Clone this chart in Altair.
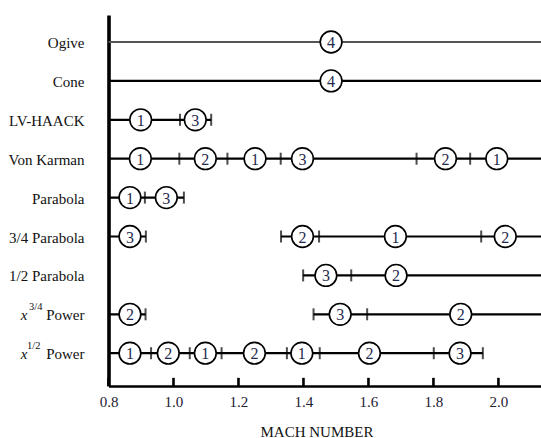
import altair as alt
import pandas as pd

# Nose-cone shapes, top to bottom (row index = position in this list)
rows = ["Ogive", "Cone", "LV-HAACK", "Von Karman", "Parabola",
        "3/4 Parabola", "1/2 Parabola", "x3/4 Power", "x1/2 Power"]

# Mach range shown on the horizontal axis
X_MIN, X_MAX = 0.8, 2.131
Y_TOP, Y_BOTTOM = -0.694, 8.843
x_ticks = [0.8, 1.0, 1.2, 1.4, 1.6, 1.8, 2.0]

# Continuous Mach ranges covered by each shape
seg_row = [0, 1, 2, 3, 4, 5, 5, 6, 7, 7, 8]
seg_start = [0.8, 0.8, 0.8, 0.8, 0.8, 0.8, 1.331, 1.399, 0.8, 1.431, 0.8]
seg_end = [X_MAX, X_MAX, 1.116, X_MAX, 1.032, 0.915, X_MAX, X_MAX, 0.914, X_MAX, 1.952]

# Boundaries between ranking intervals
tick_row = [2, 2,
            3, 3, 3, 3, 3,
            4, 4,
            5, 5, 5, 5,
            6, 6,
            7, 7, 7,
            8, 8, 8, 8, 8, 8, 8]
tick_mach = [1.020, 1.116,
             1.018, 1.166, 1.330, 1.748, 1.913,
             0.912, 1.032,
             0.915, 1.331, 1.448, 1.947,
             1.399, 1.547,
             0.914, 1.431, 1.596,
             0.931, 1.050, 1.148, 1.349, 1.450, 1.801, 1.952]

# Ranking of each shape inside each interval
circ_row = [0, 1,
            2, 2,
            3, 3, 3, 3, 3, 3,
            4, 4,
            5, 5, 5, 5,
            6, 6,
            7, 7, 7,
            8, 8, 8, 8, 8, 8, 8]
circ_mach = [1.485, 1.485,
             0.899, 1.067,
             0.898, 1.098, 1.251, 1.397, 1.837, 1.995,
             0.866, 0.978,
             0.866, 1.397, 1.683, 2.021,
             1.469, 1.685,
             0.866, 1.513, 1.884,
             0.866, 0.984, 1.098, 1.249, 1.395, 1.603, 1.882]
circ_rank = [4, 4,
             1, 3,
             1, 2, 1, 3, 2, 1,
             1, 3,
             3, 2, 1, 2,
             3, 2,
             2, 3, 2,
             1, 2, 1, 2, 1, 2, 3]

# Power-law labels need a superscript exponent
power_row = [7, 8]
power_exp = ["3/4", "1/2"]

FONT = "Liberation Serif"

segments = pd.DataFrame({"row": seg_row, "start": seg_start, "end": seg_end,
                         "ogive": [r == 0 for r in seg_row]})
ticks = pd.DataFrame({"row": tick_row, "mach": tick_mach})
circles = pd.DataFrame({"row": circ_row, "mach": circ_mach, "rank": circ_rank})
names = pd.DataFrame({"row": list(range(7)), "name": rows[:7]})
powers = pd.DataFrame({"row": power_row, "exp": power_exp})
axis_ticks = pd.DataFrame({"mach": x_ticks})

x_scale = alt.Scale(domain=[X_MIN, X_MAX], nice=False, zero=False)
y_scale = alt.Scale(domain=[Y_TOP, Y_BOTTOM], reverse=True, nice=False, zero=False)

x_axis = alt.Axis(values=x_ticks, format=".1f", tickSize=0, grid=False,
                  domainColor="black", domainWidth=2.6,
                  labelFont=FONT, labelFontSize=15, labelColor="#1c2033",
                  labelPadding=8, labelFlush=False,
                  title="MACH NUMBER", titleFont=FONT, titleFontSize=15,
                  titleFontWeight="normal", titleColor="#111",
                  titleX=208, titleY=50, titleBaseline="alphabetic")
y_axis = alt.Axis(ticks=False, labels=False, grid=False, title=None,
                  domainColor="black", domainWidth=3.6)

base_x = alt.X("start:Q", scale=x_scale, axis=x_axis)
base_y = alt.Y("row:Q", scale=y_scale, axis=y_axis)

lines = alt.Chart(segments).mark_rule().encode(
    x=base_x,
    x2="end:Q",
    y=base_y,
    color=alt.condition("datum.ogive", alt.value("#555555"), alt.value("black")),
    strokeWidth=alt.condition("datum.ogive", alt.value(1.9), alt.value(2.2)),
)

bounds = alt.Chart(ticks).mark_tick(
    orient="vertical", size=12, thickness=2, color="black"
).encode(
    x=alt.X("mach:Q", scale=x_scale),
    y=alt.Y("row:Q", scale=y_scale),
)

rings = alt.Chart(circles).mark_point(
    shape="circle", size=470, filled=True, fill="white", stroke="black",
    strokeWidth=1.6, opacity=1
).encode(
    x=alt.X("mach:Q", scale=x_scale),
    y=alt.Y("row:Q", scale=y_scale),
)

rank_text = alt.Chart(circles).mark_text(
    font=FONT, fontSize=16, color="#1f2a4d", baseline="middle", dy=1
).encode(
    x=alt.X("mach:Q", scale=x_scale),
    y=alt.Y("row:Q", scale=y_scale),
    text="rank:N",
)

name_text = alt.Chart(names).mark_text(
    font=FONT, fontSize=15, color="#111", align="right", baseline="middle", dy=1
).encode(
    x=alt.value(-24),
    y=alt.Y("row:Q", scale=y_scale),
    text="name:N",
)

power_word = alt.Chart(powers).mark_text(
    font=FONT, fontSize=15, color="#111", align="right", baseline="middle", dy=1
).encode(
    x=alt.value(-24),
    y=alt.Y("row:Q", scale=y_scale),
    text=alt.value("Power"),
)

# exponent of the 3/4 power label, then of the 1/2 power label
exp_34 = alt.Chart(powers).transform_filter("datum.row == 7").mark_text(
    font=FONT, fontSize=10.5, color="#111", align="right", baseline="middle", dy=-7
).encode(
    x=alt.value(-66),
    y=alt.Y("row:Q", scale=y_scale),
    text="exp:N",
)

exp_12 = alt.Chart(powers).transform_filter("datum.row == 8").mark_text(
    font=FONT, fontSize=10.5, color="#111", align="right", baseline="middle", dy=-7
).encode(
    x=alt.value(-68),
    y=alt.Y("row:Q", scale=y_scale),
    text="exp:N",
)

power_x = alt.Chart(powers).mark_text(
    font=FONT, fontSize=15, fontStyle="italic", color="#111", align="right",
    baseline="middle", dy=1
).encode(
    x=alt.value(-81),
    y=alt.Y("row:Q", scale=y_scale),
    text=alt.value("x"),
)

axis_marks = alt.Chart(axis_ticks).mark_rule(color="black", strokeWidth=2.6).encode(
    x=alt.X("mach:Q", scale=x_scale),
    y=alt.datum(Y_BOTTOM),
    y2=alt.datum(Y_BOTTOM - 0.21),
)

chart = alt.layer(
    lines, bounds, axis_marks, rings, rank_text,
    name_text, power_word, exp_34, exp_12, power_x
).properties(
    width=432.5,
    height=371,
    autosize=alt.AutoSizeParams(type="none"),
    padding={"left": 108.5, "top": 15, "right": 0, "bottom": 52},
    background="white",
).configure(
    font=FONT
).configure_view(stroke=None)

chart.save("out.html", embed_options={"renderer": "svg", "actions": False})
